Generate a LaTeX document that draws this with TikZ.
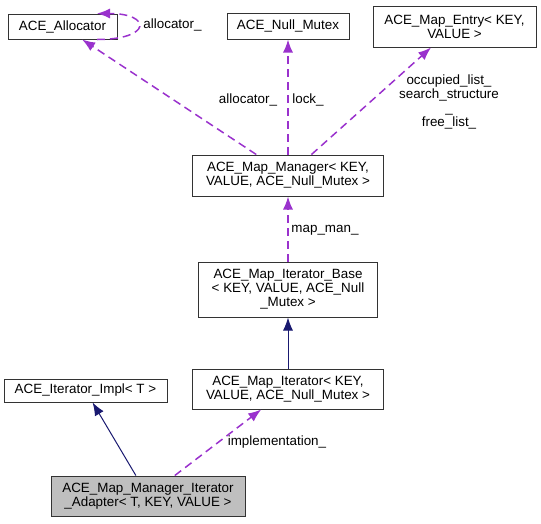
\documentclass[tikz,border=0pt]{standalone}
\usepackage{fontspec}
\setmainfont{Liberation Sans}
\usetikzlibrary{arrows.meta,positioning}
\definecolor{colordep}{HTML}{9A32CD}
\definecolor{colorinh}{HTML}{191970}
\definecolor{colorcls}{HTML}{BFBFBF}
\tikzset{
  cls/.style={draw=black!80, line width=1pt, inner sep=0pt, align=center,
    font=\fontsize{13.4}{14}\selectfont},
  lbl/.style={inner sep=0pt, align=center, font=\fontsize{13.4}{14}\selectfont},
  edgedep/.style={colordep, line width=1.5pt, dash pattern=on 8pt off 5pt,
    -{Latex[length=13pt,width=10pt]}},
  edgeinh/.style={colorinh, line width=1pt, -{Latex[length=13pt,width=10pt]}}
}
\begin{document}
\begin{tikzpicture}[x=1pt, y=-1pt]
\useasboundingbox (0,0) rectangle (541,523);
% classes
\node[cls, minimum width=109pt, minimum height=25pt] (alloc) at (62.5,26.5) {ACE\_Allocator};
\node[cls, minimum width=122pt, minimum height=26pt] (mutex) at (288,26) {ACE\_Null\_Mutex};
\node[cls, minimum width=163pt, minimum height=41pt] (entry) at (454.5,26.5) {ACE\_Map\_Entry< KEY,\\ VALUE >};
\node[cls, minimum width=191pt, minimum height=41pt] (mgr) at (288,175.5) {ACE\_Map\_Manager< KEY,\\ VALUE, ACE\_Null\_Mutex >};
\node[cls, minimum width=179pt, minimum height=55pt] (base) at (288,289.5) {ACE\_Map\_Iterator\_Base\\< KEY, VALUE, ACE\_Null\\\_Mutex >};
\node[cls, minimum width=163pt, minimum height=23pt] (impl) at (85.5,390.5) {ACE\_Iterator\_Impl< T >};
\node[cls, minimum width=191pt, minimum height=40pt] (iter) at (288,389) {ACE\_Map\_Iterator< KEY,\\ VALUE, ACE\_Null\_Mutex >};
\node[cls, fill=colorcls, minimum width=194pt, minimum height=40pt] (adapt) at (148,496) {ACE\_Map\_Manager\_Iterator\\\_Adapter< T, KEY, VALUE >};
% members
\draw[edgedep] ([xshift=34.5pt]alloc.south) .. controls +(55,0) and +(55,0) .. ([xshift=34.5pt]alloc.north);
\node[lbl] (lself) at (172.5,25) {allocator\_};
\draw[edgedep] (mgr) -- (alloc);
\node[lbl] (lalloc) at (248,100) {allocator\_};
\draw[edgedep] (mgr) -- (mutex);
\node[lbl] (llock) at (308,100) {lock\_};
\draw[edgedep] (mgr) -- (entry);
\node[lbl] (lentry) at (449,102) {occupied\_list\_\\search\_structure\\\_\\free\_list\_};
\draw[edgedep] (base) -- (mgr);
\node[lbl] (lman) at (325,230) {map\_man\_};
\draw[edgedep] (adapt) -- (iter);
\node[lbl] (limpl) at (277,442) {implementation\_};
% inheritance
\draw[edgeinh] (iter) -- (base);
\draw[edgeinh] (adapt) -- (impl);
\end{tikzpicture}
\end{document}
